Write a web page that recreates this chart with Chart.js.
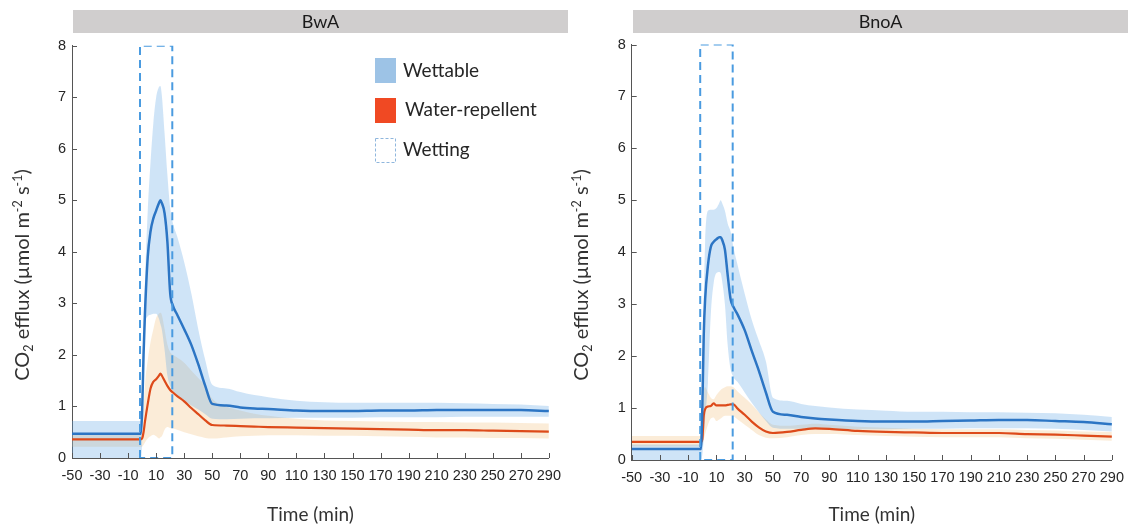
<!DOCTYPE html>
<html>
<head>
<meta charset="utf-8">
<script src="https://cdn.jsdelivr.net/npm/chart.js@4.4.1/dist/chart.umd.min.js"></script>
<style>
  body { margin: 0; background: #fff; width: 1133px; height: 531px; overflow: hidden; position: relative; }
  canvas { position: absolute; top: 0; }
</style>
</head>
<body>
<canvas id="bwa" width="570" height="531" style="left:0"></canvas>
<canvas id="bnoa" width="563" height="531" style="left:570px"></canvas>
<script>
// time after wetting (min), shared by every series
const timeMin = [-50, -1, 0, 1, 2, 4, 6, 8, 10, 12, 13, 14, 16, 18, 20, 22, 25, 30, 35, 40, 45, 50,
                 60, 70, 80, 90, 110, 130, 150, 170, 190, 210, 230, 250, 270, 290];
const xTicks = [-50, -30, -10, 10, 30, 50, 70, 90, 110, 130, 150, 170, 190, 210, 230, 250, 270, 290];
const yTicks = [0, 1, 2, 3, 4, 5, 6, 7, 8];
const wettingWindow = [-1.5, 21.5];

// BwA
const bwaWetMean = [0.47, 0.47, 0.9, 2.0, 2.8, 3.9, 4.4, 4.65, 4.8, 4.95, 5.0, 4.95, 4.75, 4.2, 3.2, 2.95, 2.78, 2.5, 2.2, 1.82, 1.4, 1.05,
                    1.02, 0.98, 0.96, 0.95, 0.92, 0.91, 0.91, 0.92, 0.92, 0.93, 0.93, 0.93, 0.93, 0.91];
const bwaWetHigh = [0.72, 0.72, 1.3, 2.5, 3.4, 4.8, 5.75, 6.5, 7.0, 7.2, 7.22, 7.05, 6.3, 5.5, 4.85, 4.55, 4.3, 3.8, 3.2, 2.5, 1.9, 1.42,
                    1.35, 1.28, 1.22, 1.18, 1.11, 1.08, 1.07, 1.07, 1.07, 1.07, 1.06, 1.05, 1.04, 1.01];
const bwaWetLow  = [0, 0, 0.3, 1.6, 2.5, 2.75, 2.78, 2.8, 2.8, 2.7, 2.6, 2.5, 2.1, 1.6, 1.4, 1.3, 1.22, 1.12, 1.02, 0.94, 0.85, 0.76,
                    0.75, 0.76, 0.77, 0.77, 0.78, 0.78, 0.78, 0.79, 0.79, 0.79, 0.8, 0.8, 0.8, 0.8];
const bwaRepMean = [0.36, 0.36, 0.38, 0.5, 0.7, 1.05, 1.35, 1.48, 1.53, 1.6, 1.64, 1.6, 1.5, 1.4, 1.32, 1.27, 1.2, 1.1, 0.97, 0.85, 0.73, 0.64,
                    0.63, 0.62, 0.61, 0.6, 0.59, 0.58, 0.57, 0.56, 0.55, 0.54, 0.54, 0.53, 0.52, 0.51];
const bwaRepHigh = [0.47, 0.47, 0.5, 0.9, 1.4, 1.9, 2.25, 2.5, 2.72, 2.8, 2.82, 2.78, 2.5, 2.2, 2.05, 2.0, 1.95, 1.85, 1.7, 1.55, 1.4, 1.15,
                    1.0, 0.92, 0.86, 0.82, 0.76, 0.73, 0.72, 0.71, 0.7, 0.7, 0.69, 0.69, 0.68, 0.67];
const bwaRepLow  = [0.22, 0.22, 0.22, 0.25, 0.3, 0.38, 0.42, 0.45, 0.42, 0.38, 0.4, 0.42, 0.55, 0.6, 0.58, 0.57, 0.55, 0.5, 0.46, 0.42, 0.39, 0.38,
                    0.4, 0.42, 0.43, 0.44, 0.44, 0.43, 0.43, 0.42, 0.41, 0.4, 0.4, 0.39, 0.39, 0.38];

// BnoA
const bnoaWetMean = [0.21, 0.21, 1.0, 2.4, 3.1, 3.75, 4.1, 4.2, 4.25, 4.29, 4.29, 4.24, 4.05, 3.55, 3.1, 2.95, 2.8, 2.5, 2.1, 1.72, 1.3, 0.93,
                     0.87, 0.83, 0.8, 0.78, 0.75, 0.74, 0.74, 0.75, 0.76, 0.77, 0.77, 0.75, 0.73, 0.69];
const bnoaWetHigh = [0.3, 0.3, 1.5, 3.0, 4.2, 4.8, 4.82, 4.82, 4.85, 4.95, 5.0, 4.95, 4.8, 4.55, 4.4, 4.1, 3.75, 3.2, 2.7, 2.3, 1.9, 1.2,
                     1.14, 1.08, 1.04, 1.01, 0.97, 0.95, 0.93, 0.93, 0.92, 0.92, 0.91, 0.9, 0.87, 0.83];
const bnoaWetLow  = [0, 0, 0.1, 0.4, 0.8, 1.5, 2.8, 3.4, 3.6, 3.62, 3.6, 3.45, 3.0, 2.2, 1.75, 1.6, 1.5, 1.3, 1.1, 0.92, 0.75, 0.62,
                     0.6, 0.6, 0.6, 0.6, 0.59, 0.59, 0.6, 0.6, 0.61, 0.61, 0.61, 0.6, 0.58, 0.55];
const bnoaRepMean = [0.35, 0.35, 0.4, 0.85, 0.98, 1.03, 1.04, 1.09, 1.05, 1.05, 1.05, 1.05, 1.05, 1.06, 1.07, 1.07, 0.99, 0.87, 0.74, 0.63, 0.55, 0.52,
                     0.54, 0.58, 0.61, 0.6, 0.56, 0.54, 0.53, 0.52, 0.52, 0.52, 0.5, 0.49, 0.47, 0.45];
const bnoaRepHigh = [0.46, 0.46, 0.8, 1.3, 1.4, 1.3, 1.2, 1.17, 1.25, 1.32, 1.35, 1.37, 1.4, 1.42, 1.42, 1.4, 1.32, 1.2, 1.07, 0.92, 0.78, 0.68,
                     0.66, 0.68, 0.7, 0.68, 0.64, 0.62, 0.6, 0.59, 0.59, 0.59, 0.58, 0.57, 0.55, 0.54];
const bnoaRepLow  = [0.26, 0.26, 0.28, 0.4, 0.5, 0.68, 0.8, 0.82, 0.75, 0.78, 0.8, 0.82, 0.85, 0.85, 0.85, 0.84, 0.78, 0.68, 0.58, 0.48, 0.43, 0.42,
                     0.44, 0.48, 0.5, 0.5, 0.48, 0.46, 0.45, 0.44, 0.44, 0.44, 0.42, 0.41, 0.39, 0.37];

const axisColor = '#555555';
const tickColor = '#262626';
const textColor = '#333333';
const blueLine = 'rgb(44,117,196)';
const orangeLine = 'rgb(221,74,26)';
const blueBand = 'rgba(95,165,228,0.3)';
const orangeBand = 'rgba(242,188,115,0.28)';
const dashBlue = 'rgb(74,155,224)';

function pts(ys) {
  return timeMin.map((t, i) => ({ x: t, y: ys[i] }));
}

function drawYTitle(ctx, cx, cy) {
  // CO2 efflux (umol m-2 s-1) with sub/superscripts, rotated
  const parts = [['CO', 0], ['2', 1], [' efflux (\u00b5mol m', 0], ['-2', -1], [' s', 0], ['-1', -1], [')', 0]];
  const big = '20px Lato', small = '12.5px Lato';
  ctx.save();
  ctx.translate(cx, cy);
  ctx.rotate(-Math.PI / 2);
  let total = 0;
  parts.forEach(p => { ctx.font = p[1] ? small : big; total += ctx.measureText(p[0]).width; });
  let x = -total / 2;
  ctx.fillStyle = textColor;
  ctx.textAlign = 'left';
  ctx.textBaseline = 'alphabetic';
  parts.forEach(p => {
    ctx.font = p[1] ? small : big;
    const dy = p[1] === 1 ? 4 : (p[1] === -1 ? -7.5 : 0);
    ctx.fillText(p[0], x, 7 + dy);
    x += ctx.measureText(p[0]).width;
  });
  ctx.restore();
}

const decor = {
  id: 'decor',
  beforeDraw(chart, args, o) {
    const ctx = chart.ctx;
    ctx.save();
    ctx.fillStyle = '#d0cece';
    ctx.fillRect(o.barLeft, 10, o.barRight - o.barLeft, 23);
    ctx.fillStyle = '#1a1a1a';
    ctx.font = '18px Lato';
    ctx.textAlign = 'center';
    ctx.textBaseline = 'middle';
    ctx.fillText(o.name, (o.barLeft + o.barRight) / 2, 22);
    ctx.restore();
  },
  afterDraw(chart, args, o) {
    const { ctx, chartArea: a, scales: { x, y } } = chart;
    ctx.save();
    // inward ticks
    ctx.strokeStyle = axisColor;
    ctx.lineWidth = 1;
    xTicks.forEach(v => {
      const px = Math.round(x.getPixelForValue(v)) + 0.5;
      ctx.beginPath(); ctx.moveTo(px, a.bottom); ctx.lineTo(px, a.bottom - 5); ctx.stroke();
    });
    yTicks.forEach(v => {
      const py = Math.round(y.getPixelForValue(v)) + 0.5;
      ctx.beginPath(); ctx.moveTo(a.left, py); ctx.lineTo(a.left + 5, py); ctx.stroke();
    });
    drawYTitle(ctx, o.yTitleX, o.yTitleY);

    if (o.legend) {
      ctx.font = '19px Lato';
      ctx.textAlign = 'left';
      ctx.textBaseline = 'middle';
      ctx.fillStyle = '#9dc3e6';
      ctx.fillRect(375, 58, 21, 25);
      ctx.fillStyle = '#f04923';
      ctx.fillRect(375, 98, 21, 25);
      ctx.strokeStyle = '#8fb6dd';
      ctx.setLineDash([3, 2]);
      ctx.strokeRect(375.5, 138.5, 20, 24);
      ctx.setLineDash([]);
      ctx.fillStyle = tickColor;
      ctx.fillText('Wettable', 403, 71);
      ctx.fillText('Water-repellent', 405, 110);
      ctx.fillText('Wetting', 403, 150);
    }
    ctx.restore();
  }
};

function buildChart(id, o, s) {
  const canvas = document.getElementById(id);
  const W = canvas.width, H = canvas.height;
  const top = yTicks[yTicks.length - 1];
  const box = [
    { x: wettingWindow[0], y: 0 }, { x: wettingWindow[0], y: top },
    { x: wettingWindow[1], y: top }, { x: wettingWindow[1], y: 0 }, { x: wettingWindow[0], y: 0 }
  ];
  return new Chart(canvas, {
    type: 'line',
    data: {
      datasets: [
        { data: pts(s.repLow), borderWidth: 0, fill: false, order: 6 },
        { data: pts(s.repHigh), borderWidth: 0, fill: '-1', backgroundColor: orangeBand, order: 5 },
        { data: pts(s.wetLow), borderWidth: 0, fill: false, order: 4 },
        { data: pts(s.wetHigh), borderWidth: 0, fill: '-1', backgroundColor: blueBand, order: 3 },
        { data: pts(s.repMean), borderColor: orangeLine, borderWidth: 2.2, fill: false, order: 2 },
        { data: pts(s.wetMean), borderColor: blueLine, borderWidth: 2.5, fill: false, order: 1 },
        { data: box, borderColor: dashBlue, borderWidth: 2, borderDash: [8, 5], fill: false,
          tension: 0, cubicInterpolationMode: 'default', order: 0 }
      ]
    },
    options: {
      responsive: false,
      animation: false,
      events: [],
      layout: { padding: { left: 0, top: o.top, right: W - o.right, bottom: 0 } },
      elements: { point: { radius: 0 }, line: { cubicInterpolationMode: 'monotone' } },
      plugins: { legend: { display: false }, tooltip: { enabled: false }, decor: o },
      scales: {
        x: {
          type: 'linear', min: -50, max: 290,
          afterBuildTicks: sc => { sc.ticks = xTicks.map(v => ({ value: v })); },
          afterFit: sc => { sc.height = H - o.bottom; },
          grid: { display: false, drawTicks: false },
          border: { display: true, color: axisColor, width: 1 },
          ticks: { autoSkip: false, maxRotation: 0, minRotation: 0, padding: 9, color: tickColor,
                   font: { family: 'Liberation Sans', size: 14.5 } },
          title: { display: true, text: 'Time (min)', color: textColor,
                   font: { family: 'Lato', size: 19 }, padding: { top: 0, bottom: 4.6 } }
        },
        y: {
          min: 0, max: 8,
          afterBuildTicks: sc => { sc.ticks = yTicks.map(v => ({ value: v })); },
          afterFit: sc => { sc.width = o.left; },
          grid: { display: false, drawTicks: false },
          border: { display: true, color: axisColor, width: 1 },
          ticks: { padding: 6, color: tickColor, font: { family: 'Liberation Sans', size: 14.5 } }
        }
      }
    },
    plugins: [decor]
  });
}

buildChart('bwa',
  { name: 'BwA', left: 72, right: 551, top: 45.7, bottom: 458, barLeft: 73, barRight: 568,
    yTitleX: 22, yTitleY: 275, legend: true },
  { wetMean: bwaWetMean, wetHigh: bwaWetHigh, wetLow: bwaWetLow,
    repMean: bwaRepMean, repHigh: bwaRepHigh, repLow: bwaRepLow });

buildChart('bnoa',
  { name: 'BnoA', left: 61.7, right: 543.3, top: 44.5, bottom: 460, barLeft: 63, barRight: 558,
    yTitleX: 11, yTitleY: 275, legend: false },
  { wetMean: bnoaWetMean, wetHigh: bnoaWetHigh, wetLow: bnoaWetLow,
    repMean: bnoaRepMean, repHigh: bnoaRepHigh, repLow: bnoaRepLow });
</script>
</body>
</html>
